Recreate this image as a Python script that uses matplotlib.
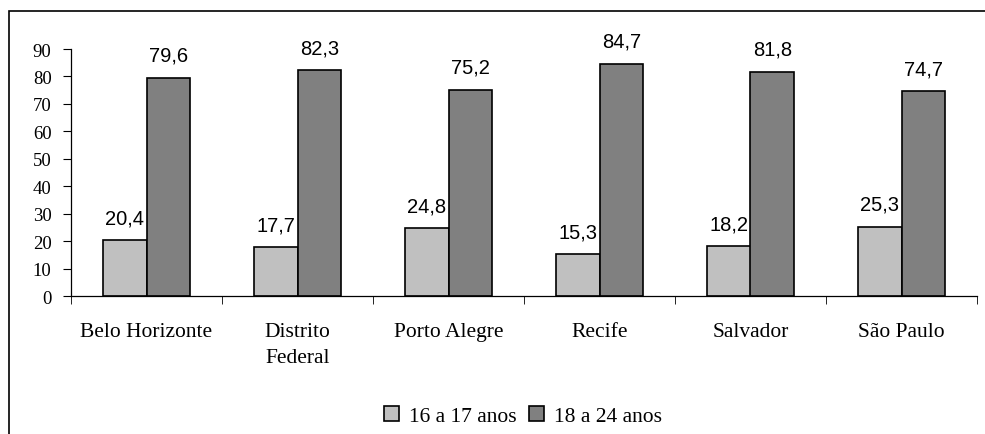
import numpy as np
import matplotlib.pyplot as plt
from matplotlib.patches import Rectangle

cidades = ['Belo Horizonte', 'Distrito\nFederal', 'Porto Alegre', 'Recife', 'Salvador', 'São Paulo']
anos_16_17 = [20.4, 17.7, 24.8, 15.3, 18.2, 25.3]
anos_18_24 = [79.6, 82.3, 75.2, 84.7, 81.8, 74.7]
serie_nomes = ['16 a 17 anos', '18 a 24 anos']
yticks = [0, 10, 20, 30, 40, 50, 60, 70, 80, 90]

fig = plt.figure(figsize=(9.85, 4.35), dpi=100)
ax = fig.add_axes([71/985, 1 - 297/435, 906/985, 247/435])

x = np.arange(len(cidades))
w = 0.29
b1 = ax.bar(x - w/2, anos_16_17, w, color='#C0C0C0', edgecolor='black', linewidth=1.2, label=serie_nomes[0])
b2 = ax.bar(x + w/2, anos_18_24, w, color='#808080', edgecolor='black', linewidth=1.2, label=serie_nomes[1])

for bars, vals in [(b1, anos_16_17), (b2, anos_18_24)]:
    for r, v in zip(bars, vals):
        ax.annotate(f'{v:.1f}'.replace('.', ','), (r.get_x() + r.get_width()/2, v),
                    xytext=(0, 16), textcoords='offset points', ha='center', va='center',
                    fontsize=14.5, family='Liberation Sans')

ax.set_xlim(-0.5, len(cidades) - 0.5)
ax.set_ylim(0, 90)
ax.set_yticks(yticks)
ax.set_yticklabels([str(t) for t in yticks], family='Liberation Serif', fontsize=13.5)
ax.set_xticks(x)
ax.set_xticklabels(cidades, family='Liberation Serif', fontsize=15.5, linespacing=1.5)
ax.tick_params(axis='x', length=0, pad=19)
ax.tick_params(axis='y', length=6, direction='out', pad=8)
ax.set_xticks(np.arange(len(cidades) + 1) - 0.5, minor=True)
ax.tick_params(axis='x', which='minor', length=6, direction='out')

for s in ['top', 'right']:
    ax.spines[s].set_visible(False)
ax.spines['left'].set_linewidth(0.9)
ax.spines['bottom'].set_linewidth(0.9)

leg = fig.legend(loc='center', bbox_to_anchor=(523/985, 1 - 417/435), ncol=2, frameon=False,
                 prop={'family': 'Liberation Serif', 'size': 15.5}, handlelength=0.7, handleheight=0.7,
                 handletextpad=0.45, columnspacing=0.6)

fig.patches.append(Rectangle((9/985, -0.1), 1.1, 1 - 12/435 + 0.1, transform=fig.transFigure,
                             fill=False, edgecolor='black', linewidth=1.2))

fig.savefig('out.png', dpi=100)
